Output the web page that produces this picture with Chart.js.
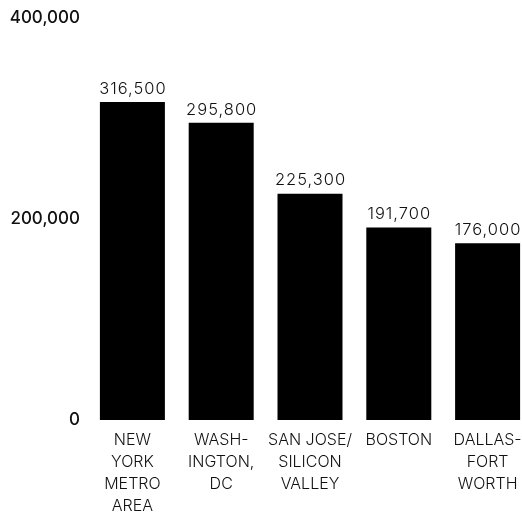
<!DOCTYPE html>
<html>
<head>
<meta charset="utf-8">
<script src="https://cdn.jsdelivr.net/npm/chart.js@4/dist/chart.umd.min.js"></script>
<style>
  html, body { margin: 0; padding: 0; background: #fff; overflow: hidden; }
  #wrap { position: relative; width: 534px; height: 520px; }
</style>
</head>
<body>
<div id="wrap"><canvas id="chart"></canvas></div>
<script>
// metro areas and their totals
var metros = [
  ["NEW", "YORK", "METRO", "AREA"],
  ["WASH-", "INGTON,", "DC"],
  ["SAN JOSE/", "SILICON", "VALLEY"],
  ["BOSTON"],
  ["DALLAS-", "FORT", "WORTH"]
];
var totals = [316500, 295800, 225300, 191700, 176000];
var yTicks = [0, 200000, 400000];

var fmt = function (v) { return v.toLocaleString("en-US"); };

// number printed above each bar
var barValues = {
  id: "barValues",
  afterDatasetsDraw: function (chart) {
    var ctx = chart.ctx;
    var meta = chart.getDatasetMeta(0);
    ctx.save();
    ctx.font = "300 16.5px Inter";
    ctx.letterSpacing = "1px";
    ctx.fillStyle = "#111";
    ctx.textAlign = "center";
    ctx.textBaseline = "bottom";
    meta.data.forEach(function (bar, i) {
      ctx.fillText(fmt(totals[i]), bar.x + 0.5, bar.y - 5);
    });
    ctx.restore();
  }
};

var ctx = document.getElementById("chart").getContext("2d");
var chart = new Chart(ctx, {
  type: "bar",
  data: {
    labels: metros,
    datasets: [{
      data: totals,
      backgroundColor: "#000",
      barPercentage: 0.732,
      categoryPercentage: 1
    }]
  },
  options: {
    responsive: true,
    maintainAspectRatio: false,
    animation: false,
    layout: { padding: { top: 17, bottom: 0, left: 0, right: 2 } },
    plugins: { legend: { display: false }, tooltip: { enabled: false } },
    scales: {
      x: {
        grid: { display: false, drawTicks: false },
        border: { display: false },
        ticks: {
          color: "#111",
          padding: 9,
          maxRotation: 0,
          autoSkip: false,
          font: { family: "Inter", size: 16, weight: "300", lineHeight: 1.375 }
        },
        afterFit: function (scale) { scale.height = 100; }
      },
      y: {
        min: 0,
        max: 400000,
        grid: { display: false, drawTicks: false },
        border: { display: false },
        afterBuildTicks: function (scale) {
          scale.ticks = yTicks.map(function (v) { return { value: v }; });
        },
        ticks: {
          color: "#111",
          padding: 8,
          font: { family: "Inter", size: 17, weight: "500" },
          callback: function (v) { return fmt(v); }
        },
        afterFit: function (scale) { scale.width = 88; }
      }
    }
  },
  plugins: [barValues]
});
</script>
</body>
</html>
